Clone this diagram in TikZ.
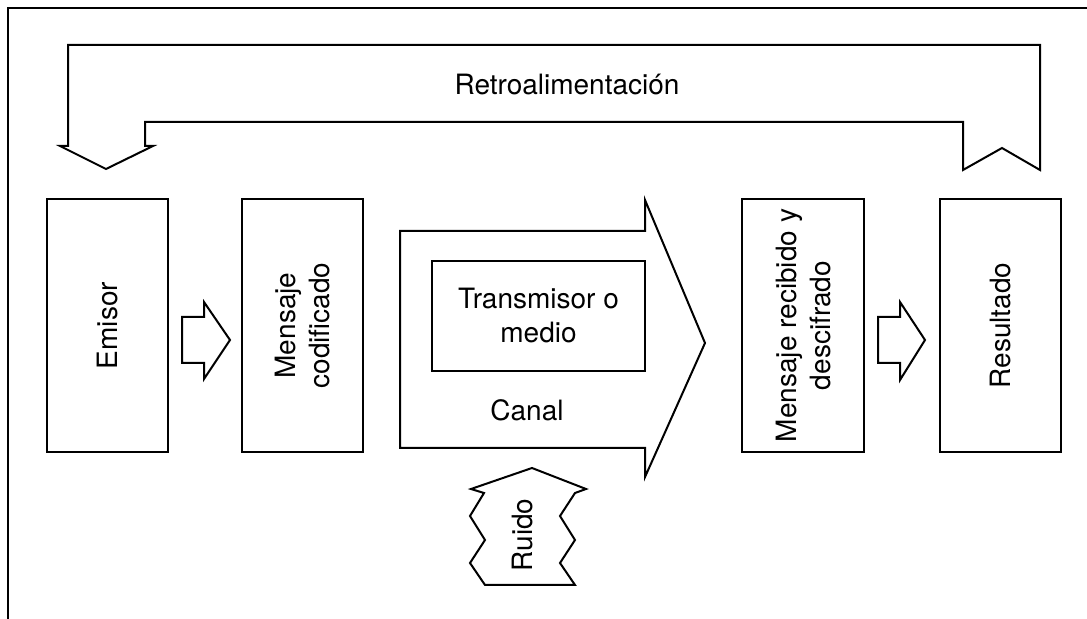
\documentclass[tikz,border=0pt]{standalone}
\usepackage{fontspec}
\setmainfont{TeX Gyre Heros}
\begin{document}
\begin{tikzpicture}[x=0.5pt,y=-0.5pt,
  line join=miter,
  outline/.style={draw=black, line width=1pt, fill=white},
  box/.style={draw=black, line width=1pt, fill=white, minimum width=60.5pt, minimum height=126.5pt, inner sep=0pt},
  lbl/.style={font=\fontsize{14}{17}\selectfont, align=center, inner sep=0pt},
  vlbl/.style={lbl, rotate=90}]
\useasboundingbox (0,0) rectangle (1087,619);
% frame
\draw[line width=1.2pt] (8,619) -- (8,8) -- (1087,8);
% feedback arrow
\draw[outline] (68,146) -- (68,45) -- (1040,45) -- (1040,170) -- (1002,148) -- (963,170)
  -- (963,122) -- (145,122) -- (145,146) -- (153,146) -- (106,169) -- (60,146) -- cycle;
\node[lbl] (retro) at (567,85) {Retroalimentación};
% boxes
\node[box] (emi) at (107.5,325.5) {};
\node[vlbl] at (emi.center) {Emisor};
\node[box] (cod) at (302.5,325.5) {};
\node[vlbl] at (cod.center) {Mensaje\\codificado};
\node[box, minimum width=61pt] (rec) at (803,325.5) {};
\node[vlbl] at (rec.center) {Mensaje recibido y\\descifrado};
\node[box] (res) at (1000.5,325.5) {};
\node[vlbl] at (res.center) {Resultado};
% small arrows
\draw[outline] (182,317) -- (204,317) -- (204,302) -- (230,340) -- (204,379) -- (204,363) -- (182,363) -- cycle;
\draw[outline] (878,317) -- (900,317) -- (900,302) -- (925,340) -- (900,380) -- (900,363) -- (878,363) -- cycle;
% canal arrow
\draw[outline] (400,231) -- (645,231) -- (645,200) -- (705,343) -- (645,477) -- (645,448) -- (400,448) -- cycle;
\node[draw=black, line width=1pt, fill=white, minimum width=106.5pt, minimum height=55pt, inner sep=0pt] (tx) at (538.5,316) {};
\node[lbl] at (tx.center) {Transmisor o\\medio};
\node[lbl] (canal) at (527,410) {Canal};
% ruido
\draw[outline] (532,468) -- (586,489) -- (575,493) -- (560,516) -- (575,540) -- (560,563) -- (575,585)
  -- (485,585) -- (470,563) -- (485,540) -- (470,516) -- (484,493) -- (471,489) -- cycle;
\node[vlbl] (ruido) at (522,535) {Ruido};
\end{tikzpicture}
\end{document}
